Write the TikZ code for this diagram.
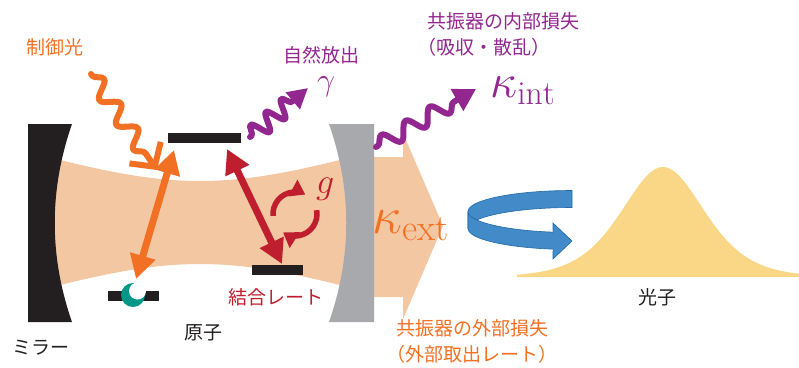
\RequirePackage{fix-cm}
\documentclass[tikz,border=0pt]{standalone}
\usepackage{fontspec}
\setmainfont{Noto Sans CJK JP}
\setmathrm{Latin Modern Roman}
\usetikzlibrary{arrows.meta,decorations.pathmorphing}

\definecolor{beamc}{RGB}{243,199,162}
\definecolor{orangec}{RGB}{242,112,35}
\definecolor{purplec}{RGB}{146,39,143}
\definecolor{redc}{RGB}{190,30,45}
\definecolor{inkc}{RGB}{35,31,32}
\definecolor{greyc}{RGB}{167,169,172}
\definecolor{tealc}{RGB}{0,150,136}
\definecolor{bluec}{RGB}{66,138,200}
\definecolor{blueedge}{RGB}{35,105,170}
\definecolor{photonc}{RGB}{249,215,135}

\begin{document}
\begin{tikzpicture}[x=1pt,y=-1pt,
  jp/.style={font=\fontsize{19}{22}\selectfont, inner sep=0pt},
  mathlbl/.style={inner sep=0pt, anchor=base west},
  level/.style={fill=inkc},
  transition/.style={line width=7pt,
    arrows={Triangle[length=24pt,width=25pt]-Triangle[length=24pt,width=25pt]}},
  swapc/.style={draw=redc, line width=5.5pt, arrows={-Triangle[length=14pt,width=18pt]}},
  wavy/.style={line width=6pt, line cap=round, line join=round, decorate},
  ribbon/.style={fill=bluec, draw=blueedge, line width=0.6pt}
]
\useasboundingbox (0,0) rectangle (799,367);

% cavity mode between the mirrors (Gaussian beam waist)
\fill[beamc] plot[domain=40:360, samples=80] (\x, {222.5-41.5*sqrt(1+((\x-200)/124)^2)})
  -- plot[domain=360:40, samples=80] (\x, {222.5+41.5*sqrt(1+((\x-200)/124)^2)}) -- cycle;
% outgoing light as a broad arrow
\fill[beamc] (360,157) -- (403,157) -- (403,133) -- (443,226) -- (403,319) -- (403,297) -- (360,297) -- cycle;

% mirrors
\fill[inkc] (28,124) -- (72,124) .. controls (49,190) and (49,256) .. (72,322) -- (28,322) -- cycle;
\fill[greyc] (374,124) -- (329,124) .. controls (352,190) and (352,256) .. (329,322) -- (374,322) -- cycle;

% energy levels
\fill[level] (168,133) rectangle (241,143);
\fill[level] (252,265) rectangle (303,275);
\fill[level] (108,291) rectangle (159,301);

% atom in the ground state
\fill[tealc] (133,295) circle[radius=12];
\fill[white] (137.5,291) circle[radius=8.5];

% transitions
\coordinate (pumpTop) at (174,150);
\coordinate (pumpBot) at (136,279);
\coordinate (cavTop) at (227,149);
\coordinate (cavBot) at (282,264);
\draw[transition, draw=orangec] (pumpBot) -- (pumpTop);
\draw[transition, draw=redc] (cavTop) -- (cavBot);

% exchange arrows for the coupling g
\coordinate (gc) at (295,214);
\draw[swapc] ([shift={(175:22)}]gc) arc[start angle=175, end angle=298, radius=22];
\draw[swapc] ([shift={(350:22)}]gc) arc[start angle=350, end angle=483, radius=22];

% wavy photons
\coordinate (ctrlA) at (91,74);
\coordinate (ctrlB) at (157,170);
\draw[wavy, draw=orangec,
  decoration={snake, amplitude=8pt, segment length=30pt, post length=16pt, pre length=2pt},
  arrows={-Straight Barb[length=17pt,width=38pt]}] (ctrlA) -- (ctrlB);
\coordinate (gamA) at (250,137);
\coordinate (gamB) at (308,88);
\draw[wavy, draw=purplec,
  decoration={snake, amplitude=9pt, segment length=20pt, post length=12pt, pre length=2pt},
  arrows={-Triangle[length=20pt,width=21pt]}] (gamA) -- (gamB);
\coordinate (intA) at (376,147);
\coordinate (intB) at (476,89);
\draw[wavy, draw=purplec,
  decoration={snake, amplitude=8pt, segment length=28pt, post length=14pt, pre length=2pt},
  arrows={-Triangle[length=22pt,width=24pt]}] (intA) -- (intB);

% turning arrow towards the photon
\fill[ribbon] (572,190.5) -- plot[domain=270:180, samples=40] ({572+104*cos(\x)}, {211.5+21*sin(\x)})
  -- (468,228.5) -- plot[domain=180:270, samples=40] ({572+104*cos(\x)}, {228.5+21*sin(\x)}) -- cycle;
\fill[ribbon] (468,211.5) -- plot[domain=180:100.5, samples=40] ({572+104*cos(\x)}, {211.5+21*sin(\x)})
  -- (553,223) -- (572,241) -- (553,259)
  -- plot[domain=100.5:180, samples=40] ({572+104*cos(\x)}, {228.5+21*sin(\x)}) -- cycle;

% emitted photon wave packet
\fill[photonc] (517,277) -- plot[domain=517:799, samples=120] (\x, {277-110/(cosh((\x-663)/55.6))^2}) -- (799,277) -- cycle;

% labels
\node[jp, text=orangec] (ctrl) at (55,47) {制御光};
\node[jp, text=purplec] (spont) at (321,55) {自然放出};
\node[mathlbl, text=purplec, font=\fontsize{32}{35}\selectfont] (gam) at (317,90) {$\gamma$};
\node[jp, text=purplec, anchor=west] (intl1) at (427,21) {共振器の内部損失};
\node[jp, text=purplec, anchor=west] (intl2) at (417,47) {（吸収・散乱）};
\node[mathlbl, text=purplec, font=\fontsize{48}{52}\selectfont] (kint) at (490,97) {$\kappa_{\mathrm{int}}$};
\node[mathlbl, text=orangec, font=\fontsize{53}{57}\selectfont] (kext) at (372,233) {$\kappa_{\mathrm{ext}}$};
\node[mathlbl, text=redc, font=\fontsize{36}{40}\selectfont] (gl) at (316,193) {$g$};
\node[jp, text=redc] (coupl) at (276,297) {結合レート};
\node[jp, text=inkc] (atomlbl) at (203,333) {原子};
\node[jp, text=inkc] (mirrorlbl) at (41,348) {ミラー};
\node[jp, text=inkc] (photonlbl) at (657,297) {光子};
\node[jp, text=orangec, anchor=west] (extl1) at (396,328) {共振器の外部損失};
\node[jp, text=orangec, anchor=west] (extl2) at (386,354) {（外部取出レート）};
\end{tikzpicture}
\end{document}
